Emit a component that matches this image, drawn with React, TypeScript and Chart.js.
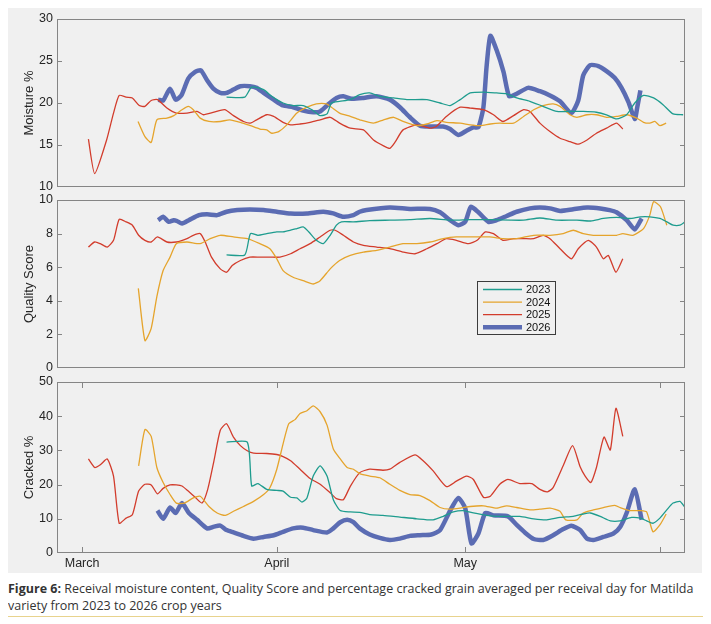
import { useEffect, useRef } from "react";
import { Chart, registerables } from "chart.js";

Chart.register(...registerables);

Chart.defaults.font.family = "'Liberation Sans', Arial, sans-serif";
Chart.defaults.color = "#262626";

type Pt = [number, number];

// x values are days counted from 1 March
const monthDays = [0, 31, 61, 92];
const monthLabels = ["March", "April", "May", ""];
const years = ["2023", "2024", "2025", "2026"];

const moisture2023: Pt[] = [
  [23, 20.7], [25.9, 20.7], [27, 21.9], [28.9, 21.6], [30.2, 20.8], [32, 20.0], [33.6, 19.7],
  [35.2, 19.7], [36.6, 19.2], [37.9, 18.5], [39, 18.7], [39.7, 20.0], [41, 20.2], [42.7, 20.4],
  [44.2, 21.0], [45.8, 21.2], [47.4, 20.8], [49.6, 20.6], [51.7, 20.4], [54.9, 20.4], [57, 20.0],
  [58.6, 19.7], [60.2, 20.4], [61.8, 21.2], [63.9, 21.3], [66, 21.2], [67.6, 21.1], [69.2, 20.6],
  [71.3, 20.2], [73.4, 19.6], [75.6, 19.0], [77.7, 19.0], [79.8, 19.0], [81.9, 18.9], [83.5, 18.6],
  [85.1, 18.1], [86.7, 18.6], [88, 20.0], [89.4, 20.9], [91, 20.6], [92.5, 19.8], [94.1, 18.7],
  [95.7, 18.6],
];
const moisture2024: Pt[] = [
  [8.9, 17.8], [10, 16.0], [11, 15.3], [11.9, 18.0], [13.5, 18.2], [14.6, 18.5], [15.9, 19.2],
  [16.9, 19.6], [17.7, 19.2], [18.8, 18.2], [20.2, 17.8], [22, 17.8], [23.5, 18.0], [25.2, 17.7],
  [26.8, 17.3], [28.3, 16.9], [29.4, 16.8], [30.2, 16.4], [31.3, 16.6], [32.6, 17.4], [34.2, 18.8],
  [35.8, 19.5], [37.3, 19.9], [38.9, 19.9], [39.7, 19.5], [41, 18.8], [42.7, 18.4], [44.2, 18.0],
  [46.4, 17.6], [48, 18.0], [49.6, 18.3], [51.1, 17.8], [53.3, 17.3], [54.9, 17.5], [56.5, 17.9],
  [58, 17.7], [60.2, 17.6], [61.8, 17.4], [63.4, 17.3], [65, 17.5], [66.5, 17.6], [68.7, 17.6],
  [70.3, 18.4], [71.9, 19.2], [73.4, 19.7], [75, 19.9], [76.1, 19.6], [77.7, 18.6], [78.8, 18.3],
  [80.4, 18.6], [81.9, 18.6], [83.5, 18.3], [85.1, 18.4], [86.7, 18.6], [88.3, 18.2], [89.4, 17.7],
  [90.4, 17.6], [91.2, 17.8], [92, 17.3], [93, 17.6],
];
const moisture2025: Pt[] = [
  [1, 15.7], [2, 11.6], [3.9, 15.6], [5, 18.8], [5.9, 20.9], [7, 20.7], [8, 20.6], [9.1, 19.7],
  [10, 19.6], [11, 20.3], [12, 20.4], [13.5, 19.4], [15, 18.8], [16.7, 18.8], [18.3, 19.0],
  [19.3, 18.6], [21, 18.9], [22.7, 19.2], [24.1, 18.5], [25.7, 17.8], [26.8, 17.6], [27.8, 18.0],
  [29.4, 18.6], [30.5, 18.4], [32, 17.7], [33.2, 17.4], [34.7, 17.5], [36.3, 17.7], [37.9, 18.0],
  [39.5, 18.3], [41, 17.6], [42.7, 17.0], [44.8, 16.8], [46.4, 15.6], [48, 14.9], [49, 14.6],
  [49.8, 15.3], [51.1, 16.8], [53.3, 17.4], [55.4, 17.0], [56.4, 17.2], [58, 18.4], [60.2, 19.5],
  [61.8, 19.4], [63.9, 19.2], [65.5, 18.6], [67, 17.8], [68.7, 18.5], [70.3, 19.2], [71.3, 19.0],
  [72.9, 17.6], [74.5, 16.6], [76.1, 15.8], [77.7, 15.4], [79, 15.1], [80.4, 15.6], [81.9, 16.4],
  [83.5, 17.0], [85.1, 17.6], [86.1, 16.9],
];
const moisture2026: Pt[] = [
  [12.1, 20.4], [12.9, 20.3], [14, 21.7], [14.9, 20.4], [15.8, 20.9], [16.9, 22.9], [18, 23.7],
  [18.9, 23.9], [19.9, 22.7], [20.9, 21.7], [22, 21.2], [23, 21.2], [24.1, 21.6], [25.2, 22.0],
  [26.7, 22.0], [27.8, 21.8], [28.9, 21.2], [30.5, 20.4], [32, 19.7], [33.6, 19.5], [35.2, 19.1],
  [36.8, 18.9], [37.9, 19.0], [39.3, 19.9], [40.5, 20.6], [41.6, 20.8], [42.9, 20.5], [44.8, 20.6],
  [46.9, 20.8], [49, 20.4], [50.6, 19.5], [52.2, 18.3], [53.8, 17.3], [55.4, 17.2], [57.5, 17.2],
  [58.6, 16.9], [59.9, 16.2], [61.2, 16.7], [62.3, 17.1], [63.1, 17.1], [63.9, 19.5], [64.4, 24.3],
  [65, 28.0], [66, 26.3], [67.1, 23.7], [68, 20.8], [69.2, 21.1], [71, 21.8], [72.9, 21.4],
  [74.5, 20.9], [76.1, 20.2], [77.9, 18.8], [79, 20.3], [79.8, 23.3], [80.9, 24.5], [82.2, 24.4],
  [83.5, 23.8], [84.8, 23.0], [85.9, 21.8], [87, 20.1], [88, 18.1], [88.4, 19.5], [88.9, 21.5],
];

const quality2023: Pt[] = [
  [23, 6.73], [25.9, 6.73], [26.8, 8.0], [28, 7.9], [29.4, 8.0], [31, 8.1], [32, 8.1], [33.2, 8.2],
  [34.2, 8.3], [35.2, 8.4], [36.1, 8.1], [37.3, 7.6], [38.4, 7.4], [39.5, 7.9], [40.5, 8.5],
  [41.3, 8.7], [43.2, 8.7], [45.8, 8.77], [49, 8.8], [52.2, 8.83], [55.4, 8.9], [58.6, 8.8],
  [61.8, 8.83], [65, 8.83], [68.2, 8.8], [70.3, 8.8], [72.9, 8.93], [75.6, 8.8], [78.8, 8.8],
  [81, 8.75], [83, 8.9], [85.1, 8.96], [87.2, 8.9], [88.9, 9.0], [90.4, 9.0], [92, 8.9], [93.1, 8.7],
  [94.1, 8.5], [95.2, 8.5], [96, 8.7],
];
const quality2024: Pt[] = [
  [8.95, 4.74], [10, 1.63], [11, 2.36], [11.9, 4.25], [12.9, 5.8], [14, 6.6], [15, 7.4], [16.7, 7.5],
  [18.8, 7.4], [20.4, 7.7], [22, 7.9], [24.1, 7.8], [26.3, 7.7], [28.3, 7.4], [29.9, 7.1], [31, 6.5],
  [32, 5.8], [33.6, 5.4], [35.2, 5.2], [36.8, 5.0], [37.9, 5.2], [39.5, 5.9], [41, 6.4], [42.7, 6.7],
  [44.8, 6.9], [46.9, 7.0], [49, 7.2], [51.1, 7.4], [53.3, 7.4], [55.4, 7.5], [57.5, 7.7],
  [59.6, 7.8], [62.3, 7.8], [64.9, 7.8], [67, 7.7], [69.2, 7.7], [71.9, 7.9], [74.5, 7.9],
  [76.6, 8.0], [78.2, 8.2], [79.8, 8.0], [81.4, 7.9], [83.5, 7.9], [85.1, 7.9], [86.1, 8.0],
  [87.7, 7.9], [89.4, 8.3], [90.4, 9.1], [91, 9.9], [92.1, 9.6], [93.1, 8.5],
];
const quality2025: Pt[] = [
  [1, 7.2], [2, 7.5], [2.9, 7.4], [4, 7.2], [5, 7.6], [5.9, 8.85], [7, 8.7], [8, 8.5], [9, 7.9],
  [10, 7.6], [11, 7.5], [12, 7.8], [13.5, 7.5], [15, 7.5], [16.7, 7.7], [17.7, 7.9], [18.8, 8.0],
  [19.6, 7.5], [20.6, 6.6], [22, 5.9], [23, 5.7], [23.9, 6.1], [25.2, 6.4], [26.7, 6.6], [28.3, 6.6],
  [29.9, 6.6], [31.5, 6.6], [33.2, 6.8], [34.7, 7.1], [36.3, 7.4], [37.9, 7.8], [39.5, 8.2],
  [40.3, 8.2], [41.6, 7.9], [43.2, 7.5], [44.8, 7.3], [46.9, 7.2], [49, 7.1], [51.1, 6.9], [53, 6.8],
  [54.9, 7.1], [56.5, 7.4], [58, 7.7], [59.6, 7.6], [61.5, 7.4], [62.9, 7.6], [64.2, 8.1],
  [65.5, 8.0], [67, 7.6], [68.7, 7.7], [70.3, 7.7], [71.9, 7.7], [73.4, 7.9], [74.5, 7.7],
  [76.1, 7.1], [77.9, 6.5], [79, 7.1], [80.6, 7.6], [81.9, 7.2], [83, 6.5], [83.8, 6.7], [85, 5.7],
  [86.1, 6.5],
];
const quality2026: Pt[] = [
  [12.1, 8.8], [12.9, 9.0], [13.8, 8.7], [14.6, 8.8], [15.1, 8.75], [15.9, 8.6], [17, 8.8],
  [18.6, 9.1], [19.9, 9.15], [21.5, 9.1], [23, 9.3], [24.7, 9.4], [26.7, 9.43], [28.9, 9.4],
  [31, 9.3], [33.2, 9.2], [35.8, 9.2], [38.4, 9.3], [40, 9.2], [41.6, 9.0], [43.2, 9.1], [44.2, 9.3],
  [45.3, 9.4], [49, 9.55], [52.2, 9.47], [55.4, 9.47], [57, 9.27], [58.6, 8.8], [59.9, 8.5],
  [61, 8.7], [61.9, 9.6], [63.1, 9.27], [64.7, 8.7], [66, 8.8], [67.6, 9.05], [69.2, 9.3],
  [71.3, 9.5], [72.9, 9.55], [74.5, 9.5], [76.1, 9.35], [78.2, 9.45], [80.4, 9.55], [82.5, 9.5],
  [84, 9.4], [85.1, 9.27], [86.7, 8.8], [88, 8.25], [89.1, 8.9],
];

const cracked2023: Pt[] = [
  [23, 32.4], [26.3, 32.4], [27, 19.6], [28, 20.3], [29.4, 18.6], [31, 18.3], [32, 18.1], [33.2, 16.3],
  [34.2, 16.1], [35, 14.9], [35.8, 16.1], [36.8, 22.5], [37.9, 25.5], [39, 22.5], [40, 15.6],
  [41.1, 12.4], [42.7, 12.0], [44.2, 11.9], [45.8, 11.2], [47.9, 11.0], [50.6, 10.5], [53.3, 10.0],
  [55.9, 9.7], [57.5, 10.7], [59.1, 12.0], [60.7, 12.4], [62.3, 11.7], [64.4, 11.0], [66.5, 10.7],
  [69.7, 10.7], [71.9, 10.0], [74, 9.7], [76.1, 10.4], [78.2, 10.7], [79.8, 11.4], [80.9, 11.7],
  [82.5, 10.7], [84.1, 9.4], [85.7, 9.4], [87.5, 10.4], [88.9, 10.2], [89.9, 9.4], [90.9, 8.7],
  [92, 10.2], [93.1, 12.6], [94.1, 14.6], [95.2, 15.1], [96, 13.3],
];
const cracked2024: Pt[] = [
  [9, 25.5], [10, 36.1], [11, 34.1], [11.9, 25.0], [12.9, 20.6], [14, 17.1], [15, 14.6], [16.3, 14.6],
  [17.7, 16.1], [18.8, 16.6], [20.2, 13.6], [21.5, 11.7], [22.8, 11.0], [24.1, 12.2], [25.7, 13.6],
  [27.3, 15.1], [28.9, 17.1], [29.9, 19.1], [31, 24.5], [32, 31.9], [32.9, 37.8], [33.9, 39.0],
  [34.7, 40.8], [35.8, 41.6], [36.8, 43.0], [37.9, 41.3], [39, 37.4], [40, 30.4], [41.1, 27.5],
  [42.2, 25.0], [43.2, 24.5], [44.2, 23.2], [45.8, 22.5], [47.4, 22.0], [49, 20.1], [50.6, 18.3],
  [52.2, 17.1], [53.8, 16.8], [55.4, 15.3], [57, 13.3], [58.6, 12.8], [60.2, 13.1], [61.8, 13.6],
  [63.9, 13.8], [66, 13.1], [67.6, 13.8], [69.2, 13.3], [71.3, 12.6], [72.9, 12.8], [74.5, 13.1],
  [76.1, 12.2], [77, 9.7], [78.8, 9.7], [79.8, 11.7], [81.4, 12.6], [83, 13.3], [84.8, 13.9],
  [85.9, 13.1], [87.2, 12.4], [88.9, 12.4], [89.9, 12.0], [90.9, 6.2], [92, 8.2], [93, 11.4],
];
const cracked2025: Pt[] = [
  [1, 27.5], [2, 25.0], [2.9, 25.8], [4, 27.5], [5, 22.5], [5.9, 8.7], [7, 10.2], [8, 11.2], [9, 18.1],
  [10, 20.1], [11, 19.9], [12, 17.3], [12.9, 18.9], [14, 19.9], [15, 19.9], [15.9, 19.6], [16.9, 18.1],
  [18, 16.3], [19.1, 14.6], [20, 18.6], [21, 27.0], [22, 35.9], [23, 37.8], [24.1, 33.9], [25.2, 31.4],
  [26.3, 29.9], [27.3, 29.2], [29.4, 29.1], [31, 28.8], [32, 28.2], [33.2, 27.0], [34.7, 24.5],
  [36.3, 21.8], [37.9, 20.1], [39.5, 17.6], [40.5, 15.9], [41.6, 15.6], [42.7, 19.5], [44.2, 23.5],
  [45.8, 24.5], [47.9, 24.2], [49, 24.5], [50.6, 26.5], [53, 28.7], [54.3, 27.0], [55.9, 24.0],
  [58, 19.4], [59.6, 21.0], [61.2, 22.5], [62.3, 21.5], [63.9, 16.3], [65, 16.6], [66.5, 20.1],
  [67.8, 21.5], [69.7, 20.3], [71.6, 20.3], [72.9, 18.6], [74.1, 17.9], [75, 19.1], [76.6, 25.5],
  [78.1, 31.4], [79.3, 25.2], [80.1, 22.5], [81, 20.6], [81.9, 25.0], [83.1, 33.9], [84.1, 30.1],
  [85, 42.3], [86.1, 34.1],
];
const cracked2026: Pt[] = [
  [12, 12.4], [12.9, 10.0], [14, 13.3], [14.9, 11.7], [15.9, 14.6], [17, 11.7], [18.3, 9.7],
  [19.9, 7.2], [21, 7.7], [22, 8.0], [23, 6.7], [24.1, 6.0], [25.7, 5.0], [27.3, 4.2], [28.9, 4.7],
  [30.5, 5.2], [32, 6.2], [33.6, 7.2], [35.2, 7.4], [36.8, 6.7], [39, 6.0], [40, 7.2], [41.1, 9.0],
  [42.2, 9.7], [43.2, 9.0], [44.2, 7.2], [45.8, 5.4], [47.4, 4.4], [49, 3.8], [50.6, 4.2], [52.2, 5.0],
  [53.8, 5.2], [55.6, 5.4], [57, 6.7], [58.6, 12.4], [59.9, 16.1], [61, 13.1], [62, 2.8], [63.1, 5.7],
  [64.2, 11.7], [65.5, 11.0], [67.8, 10.7], [69.2, 8.2], [70.5, 6.0], [71.9, 4.1], [73.4, 3.8],
  [75, 5.2], [76.6, 7.0], [77.9, 8.0], [79.3, 6.7], [80.4, 4.2], [81.4, 3.8], [83, 4.7], [84.6, 5.7],
  [85.7, 7.7], [86.7, 11.7], [88, 18.6], [89.1, 9.7],
];

const yearColors = ["#1e9c8e", "#e5a42c", "#d23c2c", "#5b6cb3"];
const frameColor = "#858585";

const framePlugin = {
  id: "frame",
  afterDatasetsDraw(chart: Chart, _args: unknown, opts: { xTicks?: boolean }) {
    const { ctx, chartArea: a } = chart;
    const y = chart.scales.y;
    const x = chart.scales.x;
    ctx.save();
    ctx.strokeStyle = frameColor;
    ctx.lineWidth = 1;
    ctx.strokeRect(a.left + 0.5, a.top + 0.5, a.width - 1, a.height - 1);
    ctx.beginPath();
    y.ticks.forEach((t) => {
      if (t.value <= (y.min as number) || t.value >= (y.max as number)) return;
      const py = Math.round(y.getPixelForValue(t.value)) + 0.5;
      ctx.moveTo(a.left, py);
      ctx.lineTo(a.left + 5, py);
      ctx.moveTo(a.right, py);
      ctx.lineTo(a.right - 5, py);
    });
    if (opts && opts.xTicks) {
      x.ticks.forEach((t) => {
        const px = Math.round(x.getPixelForValue(t.value)) + 0.5;
        ctx.moveTo(px, a.top);
        ctx.lineTo(px, a.top + 6);
        ctx.moveTo(px, a.bottom);
        ctx.lineTo(px, a.bottom - 6);
      });
    }
    ctx.stroke();
    ctx.restore();
  },
};

const legendPlugin = {
  id: "boxLegend",
  afterDraw(chart: Chart, _args: unknown, opts: { show?: boolean }) {
    if (!opts || !opts.show) return;
    const { ctx, chartArea: a } = chart;
    const left = a.left + 420;
    const top = a.top + 81;
    ctx.save();
    ctx.fillStyle = "#f0f0f0";
    ctx.fillRect(left, top, 78, 53);
    ctx.strokeStyle = "#3c3c3c";
    ctx.lineWidth = 1;
    ctx.strokeRect(left + 0.5, top + 0.5, 78, 53);
    ctx.font = "11px 'Liberation Sans', Arial, sans-serif";
    ctx.textBaseline = "middle";
    chart.data.datasets.forEach((ds, i) => {
      const ry = top + 8.5 + i * 12.6;
      ctx.strokeStyle = ds.borderColor as string;
      ctx.lineWidth = ds.borderWidth as number;
      ctx.beginPath();
      ctx.moveTo(left + 6, ry);
      ctx.lineTo(left + 45, ry);
      ctx.stroke();
      ctx.fillStyle = "#111";
      ctx.fillText(ds.label as string, left + 49, ry + 0.5);
    });
    ctx.restore();
  },
};

interface PanelProps {
  series: Pt[][];
  yMin: number;
  yMax: number;
  yStep: number;
  title: string;
  top: number;
  height: number;
  showX?: boolean;
  legend?: boolean;
}

function Panel({ series, yMin, yMax, yStep, title, top, height, showX = false, legend = false }: PanelProps) {
  const canvasRef = useRef<HTMLCanvasElement>(null);

  useEffect(() => {
    if (!canvasRef.current) return;
    const chart = new Chart(canvasRef.current, {
      type: "line",
      data: {
        datasets: series.map((pts, i) => ({
          label: years[i],
          data: pts.map(([x, y]) => ({ x, y })),
          borderColor: yearColors[i],
          borderWidth: i === 3 ? 4.5 : 1.3,
          pointRadius: 0,
          tension: 0.2,
          fill: false,
        })),
      },
      options: {
        animation: false,
        responsive: false,
        maintainAspectRatio: false,
        layout: { padding: { top: 14, bottom: showX ? 0 : 14, left: 0, right: 17 } },
        plugins: {
          legend: { display: false },
          tooltip: { enabled: false },
          // @ts-ignore custom plugin options
          frame: { xTicks: showX },
          boxLegend: { show: legend },
        },
        scales: {
          x: {
            type: "linear",
            min: -4,
            max: 96,
            display: showX,
            afterBuildTicks: (s) => {
              s.ticks = monthDays.map((v) => ({ value: v }));
            },
            afterFit: (s) => {
              if (showX) s.height = 22;
            },
            ticks: {
              autoSkip: false,
              maxRotation: 0,
              padding: 3,
              font: { size: 12.5 },
              callback: (v) => monthLabels[monthDays.indexOf(Number(v))] ?? "",
            },
            grid: { display: false, drawTicks: false },
            border: { display: false },
          },
          y: {
            min: yMin,
            max: yMax,
            afterFit: (s) => {
              s.width = 49;
            },
            ticks: { stepSize: yStep, padding: 4, font: { size: 12.5 } },
            grid: { display: false, drawTicks: false },
            border: { display: false },
            title: {
              display: true,
              text: title,
              font: { size: 13 },
              padding: { top: 14, bottom: 0 },
            },
          },
        },
      },
      plugins: [framePlugin, legendPlugin],
    });
    return () => chart.destroy();
  }, [series, yMin, yMax, yStep, title, showX, legend]);

  return (
    <canvas
      ref={canvasRef}
      width={694}
      height={height}
      style={{ position: "absolute", left: 0, top, width: 694, height }}
    />
  );
}

const moistureSeries = [moisture2023, moisture2024, moisture2025, moisture2026];
const qualitySeries = [quality2023, quality2024, quality2025, quality2026];
const crackedSeries = [cracked2023, cracked2024, cracked2025, cracked2026];

export default function App() {
  return (
    <div>
      <div style={{ position: "relative", width: 694, height: 565, background: "#f0f0f0" }}>
        <Panel series={moistureSeries} yMin={10} yMax={30} yStep={5} title="Moisture %" top={-3} height={196} />
        <Panel
          series={qualitySeries}
          yMin={0}
          yMax={10}
          yStep={2}
          title="Quality Score"
          top={178}
          height={196}
          legend
        />
        <Panel
          series={crackedSeries}
          yMin={0}
          yMax={50}
          yStep={10}
          title="Cracked %"
          top={360}
          height={207}
          showX
        />
      </div>
      <div
        style={{
          marginTop: 6.5,
          font: "12.5px 'Open Sans', sans-serif",
          lineHeight: "17px",
          color: "#333",
          whiteSpace: "nowrap",
        }}
      >
        <b>Figure 6:</b> Receival moisture content, Quality Score and percentage cracked grain averaged per
        receival day for Matilda
        <br />
        variety from 2023 to 2026 crop years
      </div>
      <div style={{ width: 698, height: 1, marginTop: 2, background: "#e8d38d" }} />
    </div>
  );
}
